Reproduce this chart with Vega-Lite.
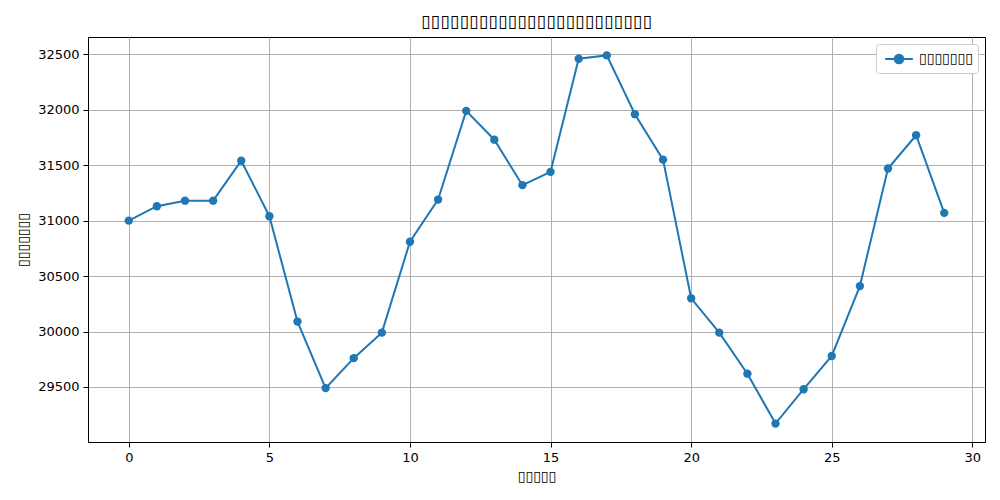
{
  "$schema": "https://vega.github.io/schema/vega-lite/v6.json",
  "width": 897,
  "height": 405,
  "autosize": {"type": "none"},
  "padding": {"left": 88, "top": 37, "right": 15, "bottom": 58},
  "background": "white",
  "title": {"text": "▯▯▯▯▯▯▯▯▯▯▯▯▯▯▯▯▯▯▯▯▯▯▯▯", "font": "DejaVu Sans", "fontSize": 17.5, "fontWeight": "normal", "color": "black", "offset": 7},
  "config": {
    "view": {"stroke": "black", "strokeWidth": 1},
    "axis": {"labelFont": "DejaVu Sans", "labelFontSize": 13, "labelColor": "black", "titleFont": "DejaVu Sans", "titleFontSize": 14, "titleFontWeight": "normal", "titleColor": "black", "tickColor": "black", "tickSize": 5, "domainColor": "black", "gridColor": "#b0b0b0", "gridWidth": 1, "gridOpacity": 1}
  },
  "data": {"values": [
    {"day": 0, "v": 31000}, {"day": 1, "v": 31130}, {"day": 2, "v": 31180}, {"day": 3, "v": 31180},
    {"day": 4, "v": 31540}, {"day": 5, "v": 31040}, {"day": 6, "v": 30090}, {"day": 7, "v": 29490},
    {"day": 8, "v": 29760}, {"day": 9, "v": 29990}, {"day": 10, "v": 30810}, {"day": 11, "v": 31190},
    {"day": 12, "v": 31990}, {"day": 13, "v": 31730}, {"day": 14, "v": 31320}, {"day": 15, "v": 31440},
    {"day": 16, "v": 32460}, {"day": 17, "v": 32490}, {"day": 18, "v": 31960}, {"day": 19, "v": 31550},
    {"day": 20, "v": 30300}, {"day": 21, "v": 29990}, {"day": 22, "v": 29620}, {"day": 23, "v": 29170},
    {"day": 24, "v": 29480}, {"day": 25, "v": 29780}, {"day": 26, "v": 30410}, {"day": 27, "v": 31470},
    {"day": 28, "v": 31770}, {"day": 29, "v": 31070}
  ]},
  "transform": [{"calculate": "'▯▯▯▯▯▯▯'", "as": "series"}],
  "encoding": {
    "x": {"field": "day", "type": "quantitative", "title": "▯▯▯▯▯",
      "scale": {"domain": [-1.45, 30.45], "nice": false, "zero": false},
      "axis": {"values": [0, 5, 10, 15, 20, 25, 30], "labelPadding": 4, "titlePadding": 5}},
    "y": {"field": "v", "type": "quantitative", "title": "▯▯▯▯▯▯▯",
      "scale": {"domain": [29004, 32656], "nice": false, "zero": false},
      "axis": {"values": [29500, 30000, 30500, 31000, 31500, 32000, 32500], "format": "d", "labelPadding": 4, "titlePadding": 7}},
    "color": {"field": "series", "type": "nominal", "scale": {"range": ["#1f77b4"]},
      "legend": {"title": null, "orient": "top-right", "offset": 7, "labelFont": "DejaVu Sans", "labelFontSize": 14, "labelColor": "black", "labelOffset": 10,
        "symbolType": "M-1.6,0H1.6M0.5,0A0.5,0.5 0 1,1 -0.5,0A0.5,0.5 0 1,1 0.5,0Z", "symbolSize": 300, "symbolStrokeWidth": 2, "symbolOffset": 8,
        "symbolFillColor": "#1f77b4", "symbolStrokeColor": "#1f77b4",
        "strokeColor": "#cccccc", "fillColor": "white", "cornerRadius": 3, "padding": 5}}
  },
  "layer": [
    {"mark": {"type": "line", "strokeWidth": 2}},
    {"mark": {"type": "point", "filled": true, "size": 70, "opacity": 1}}
  ]
}
